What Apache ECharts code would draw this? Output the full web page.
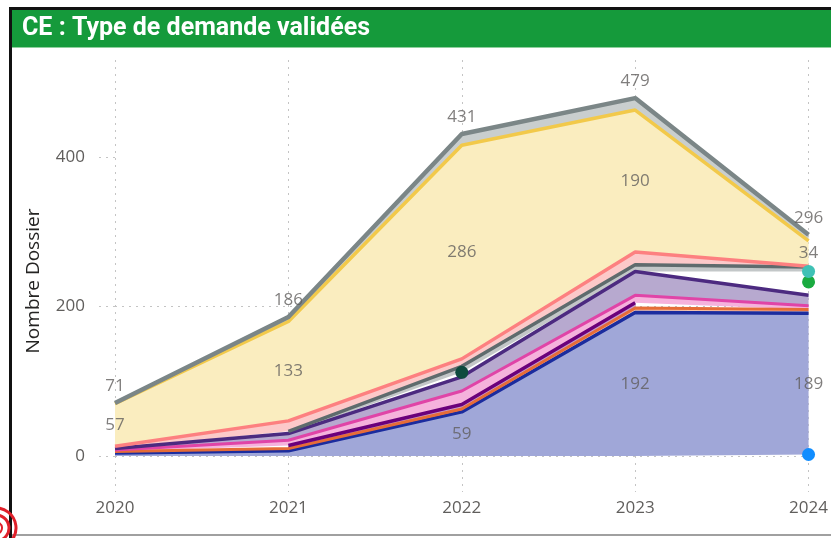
<!DOCTYPE html>
<html><head><meta charset="utf-8">
<script src="https://cdn.jsdelivr.net/npm/echarts@6/dist/echarts.min.js"></script>
<style>html,body{margin:0;padding:0;background:#fff}#c{width:831px;height:538px}</style>
</head><body><div id="c"></div>
<script>
// ---- data ----
const years      = ['2020', '2021', '2022', '2023', '2024'];
const sBlueDot   = [null, null, null, null, 2];
const sBlue      = [4, 7, 59, 192, 189];
const sOrange    = [2, 3, 4, 6, 5];
const sViolet    = [null, 4, 6, 7, null];
const sPink      = [2, 7, 18, 10, 5];
const sPurple    = [2, 9, 19, 32, 14];
const sDarkGreen = [null, null, 6, null, null];
const sGreen     = [null, null, null, null, 18];
const sTeal      = [null, null, null, null, 14];
const sGray      = [null, 3, 8, 9, 6];
const sSalmon    = [3, 14, 10, 17, 1];
const sYellow    = [57, 133, 286, 190, 34];
const sTop       = [1, 6, 15, 16, 8];
const yTicks     = [0, 200, 400];

// ---- layers, bottom to top ----
const layers = [
  { name: 'Série 1',  data: sBlueDot,   line: '#118dff', dot: true },
  { name: 'Série 2',  data: sBlue,      line: '#1b2c9e', fill: '#a0a7d8', w: 3.5 },
  { name: 'Série 3',  data: sOrange,    line: '#e66c37', fill: '#f5c2ab', w: 3 },
  { name: 'Série 4',  data: sViolet,    line: '#6b007b', fill: '#c499cb', w: 3.5 },
  { name: 'Série 5',  data: sPink,      line: '#e044a7', fill: '#f5b2dc', w: 3 },
  { name: 'Série 6',  data: sPurple,    line: '#4c2a80', fill: '#b7a9cf', w: 3.5 },
  { name: 'Série 7',  data: sDarkGreen, line: '#0d4a3d', dot: true },
  { name: 'Série 8',  data: sGreen,     line: '#1aab40', dot: true },
  { name: 'Série 9',  data: sTeal,      line: '#3fc1b5', dot: true },
  { name: 'Série 10', data: sGray,      line: '#5f6b6d', fill: '#c3c7c8', w: 3.5 },
  { name: 'Série 11', data: sSalmon,    line: '#fd8080', fill: '#fcc9c9', w: 3.5 },
  { name: 'Série 12', data: sYellow,    line: '#f2c94a', fill: '#faedbf', w: 3.5 },
  { name: 'Série 13', data: sTop,       line: '#7b8687', fill: '#c9cece', w: 4.5 }
];

const v = x => (x == null ? 0 : x);
const totals = years.map((_, i) => layers.reduce((s, l) => s + v(l.data[i]), 0));
const yellowIdx = layers.findIndex(l => l.data === sYellow);
const yellowMid = years.map((_, i) => {
  let b = 0;
  for (let k = 0; k < yellowIdx; k++) b += v(layers[k].data[i]);
  return b + sYellow[i] / 2;
});
const blueMid = years.map((_, i) => v(sBlueDot[i]) + sBlue[i] / 2);

const labelFont = { fontFamily: 'Open Sans', fontSize: 17, color: '#605e5c' };

const series = [];
// areas (one stack)
layers.forEach((l, idx) => {
  series.push({
    name: l.name, type: 'line', stack: 'areas', data: l.data,
    connectNulls: false, silent: true, z: 2,
    emphasis: { disabled: true },
    showSymbol: false, symbol: 'none',
    lineStyle: { width: 0, opacity: 0 },
    areaStyle: l.dot ? undefined : { color: l.fill, opacity: 1 }
  });
});
// lines and dots (a second, identical stack drawn above all areas)
layers.forEach((l, idx) => {
  const s = {
    name: l.name, type: 'line', stack: 'lines', data: l.data,
    connectNulls: false, silent: true, z: 3 + idx * 0.01,
    emphasis: { disabled: true },
    itemStyle: { color: l.line },
    lineStyle: { color: l.line, width: l.w || 0 }
  };
  if (l.dot) { s.showSymbol = true; s.symbol = 'circle'; s.symbolSize = 13; s.z = 4; }
  else { s.showSymbol = false; s.symbol = 'none'; }
  series.push(s);
});

function labelSeries(name, data, fmt, pos, dist) {
  return {
    name: name, type: 'scatter', data: data, symbolSize: 1, silent: true, z: 5,
    itemStyle: { color: 'transparent' },
    label: Object.assign({ show: true, position: pos, distance: dist, formatter: fmt }, labelFont)
  };
}
series.push(labelSeries('lblYellow', yellowMid, p => String(sYellow[p.dataIndex]), 'inside', 0));
series.push(labelSeries('lblBlue', blueMid, p => (sBlue[p.dataIndex] >= 30 ? String(sBlue[p.dataIndex]) : ''), 'inside', 0));
series.push(labelSeries('lblTotal', totals, p => String(totals[p.dataIndex]), 'top', 8));

const gridDot = { type: [2, 5], color: '#c4c4c4', width: 1 };

const option = {
  animation: false,
  title: {
    text: 'CE : Type de demande validées', left: 22, top: 16, padding: 0, z: 10,
    textStyle: { color: '#ffffff', fontFamily: 'Roboto', fontWeight: 'bold', fontSize: 25 }
  },
  graphic: [
    { type: 'rect', shape: { x: 9, y: 7, width: 830, height: 3 }, style: { fill: '#111' }, z: 0 },
    { type: 'rect', shape: { x: 9, y: 7, width: 3, height: 540 }, style: { fill: '#111' }, z: 0 },
    { type: 'rect', shape: { x: 12, y: 10, width: 830, height: 37 }, style: { fill: '#159a3b' }, z: 0 },
    { type: 'rect', shape: { x: 12, y: 47, width: 830, height: 1 }, style: { fill: '#8fd09d' }, z: 0 },
    { type: 'rect', shape: { x: 12, y: 534, width: 830, height: 2 }, style: { fill: '#a0a0a0' }, z: 0 },
    { type: 'arc', shape: { cx: -4, cy: 528, r: 20, startAngle: -1.7, endAngle: 1.7 }, style: { stroke: '#e0202a', lineWidth: 3, fill: null }, z: 0 },
    { type: 'arc', shape: { cx: -4, cy: 528, r: 13, startAngle: -1.7, endAngle: 1.7 }, style: { stroke: '#e0202a', lineWidth: 3, fill: null }, z: 0 },
    { type: 'arc', shape: { cx: -4, cy: 528, r: 6, startAngle: -1.7, endAngle: 1.7 }, style: { stroke: '#e0202a', lineWidth: 2, fill: null }, z: 0 }
  ],
  grid: { left: 115, right: 21, top: 60, bottom: 82 },
  xAxis: {
    type: 'category', data: years, boundaryGap: false,
    axisLine: { show: false },
    axisTick: { show: true, length: 36, lineStyle: gridDot },
    splitLine: { show: true, lineStyle: gridDot },
    axisLabel: Object.assign({ margin: 44 }, labelFont)
  },
  yAxis: {
    type: 'value', min: 0, max: 530, interval: 200,
    name: 'Nombre Dossier', nameLocation: 'middle', nameGap: 72, nameRotate: 90,
    nameTextStyle: { fontFamily: 'Open Sans', fontSize: 19, color: '#252423', padding: [0, 46, 0, 0] },
    axisLine: { show: false },
    axisTick: { show: true, length: 17, customValues: yTicks, lineStyle: gridDot },
    splitLine: { show: true, showMaxLine: false, lineStyle: gridDot },
    axisLabel: Object.assign({ margin: 30, showMaxLabel: false,
      formatter: val => (yTicks.indexOf(val) >= 0 ? String(val) : '') }, labelFont)
  },
  series: series
};

echarts.init(document.getElementById('c'), null, { renderer: 'canvas' }).setOption(option);
</script>
</body></html>
